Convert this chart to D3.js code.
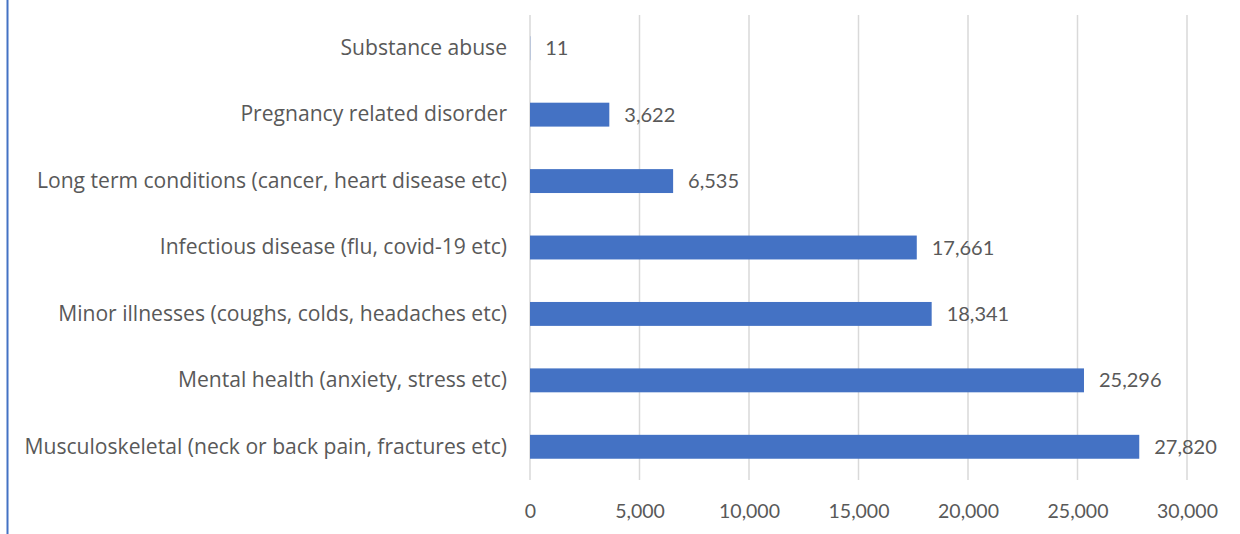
<!DOCTYPE html>
<html>
<head>
<meta charset="utf-8">
<script src="https://cdn.jsdelivr.net/npm/d3@7"></script>
<style>
  html, body { margin: 0; padding: 0; background: #fff; }
  svg { display: block; }
  text { font-family: Lato, "Open Sans", sans-serif; fill: #595959; }
</style>
</head>
<body>
<svg id="chart" width="1240" height="534"></svg>
<script>
// Categories, top to bottom
const categories = [
  "Substance abuse",
  "Pregnancy related disorder",
  "Long term conditions (cancer, heart disease etc)",
  "Infectious disease (flu, covid-19 etc)",
  "Minor illnesses (coughs, colds, headaches etc)",
  "Mental health (anxiety, stress etc)",
  "Musculoskeletal (neck or back pain, fractures etc)"
];
const values = [11, 3622, 6535, 17661, 18341, 25296, 27820];
const xTicks = [0, 5000, 10000, 15000, 20000, 25000, 30000];

const svg = d3.select("#chart");
const W = 1240, H = 534;
const margin = { top: 15, right: 53, bottom: 54, left: 530 };

const x = d3.scaleLinear()
  .domain([0, 30000])
  .range([margin.left, W - margin.right]);

const y = d3.scaleBand()
  .domain(categories)
  .range([margin.top, H - margin.bottom])
  .paddingInner(0.64)
  .paddingOuter(0.32);

const fmt = d3.format(",");

// left border accent
svg.append("line")
  .attr("x1", 7.5).attr("x2", 7.5)
  .attr("y1", 0).attr("y2", H)
  .attr("stroke", "#4472C4")
  .attr("stroke-width", 2);

// vertical gridlines
svg.append("g")
  .selectAll("line")
  .data(xTicks)
  .join("line")
  .attr("x1", d => x(d)).attr("x2", d => x(d))
  .attr("y1", margin.top).attr("y2", H - margin.bottom)
  .attr("stroke", "#d9d9d9")
  .attr("stroke-width", 1.5);

// x axis tick labels
const xAxis = d3.axisBottom(x)
  .tickValues(xTicks)
  .tickFormat(fmt)
  .tickSize(0)
  .tickPadding(24);
const gx = svg.append("g")
  .attr("transform", `translate(0,${H - margin.bottom})`)
  .call(xAxis);
gx.select(".domain").remove();
gx.selectAll("text")
  .attr("font-size", 19.5)
  .style("font-family", "Lato, 'Open Sans', sans-serif")
  .attr("fill", "#595959");

// y axis category labels
const yAxis = d3.axisLeft(y).tickSize(0).tickPadding(23);
const gy = svg.append("g")
  .attr("transform", `translate(${margin.left},0)`)
  .call(yAxis);
gy.select(".domain").remove();
gy.selectAll("text")
  .attr("font-size", 21.1)
  .style("font-family", "'Open Sans', Lato, sans-serif")
  .attr("fill", "#595959");

// bars
svg.append("g")
  .selectAll("rect")
  .data(categories)
  .join("rect")
  .attr("x", x(0))
  .attr("y", d => y(d))
  .attr("width", (d, i) => x(values[i]) - x(0))
  .attr("height", y.bandwidth())
  .attr("fill", "#4472C4");

// value labels
svg.append("g")
  .selectAll("text")
  .data(categories)
  .join("text")
  .attr("x", (d, i) => x(values[i]) + 15)
  .attr("y", d => y(d) + y.bandwidth() / 2)
  .attr("dy", "0.35em")
  .attr("font-size", 20)
  .attr("fill", "#404040")
  .text((d, i) => fmt(values[i]));
</script>
</body>
</html>
